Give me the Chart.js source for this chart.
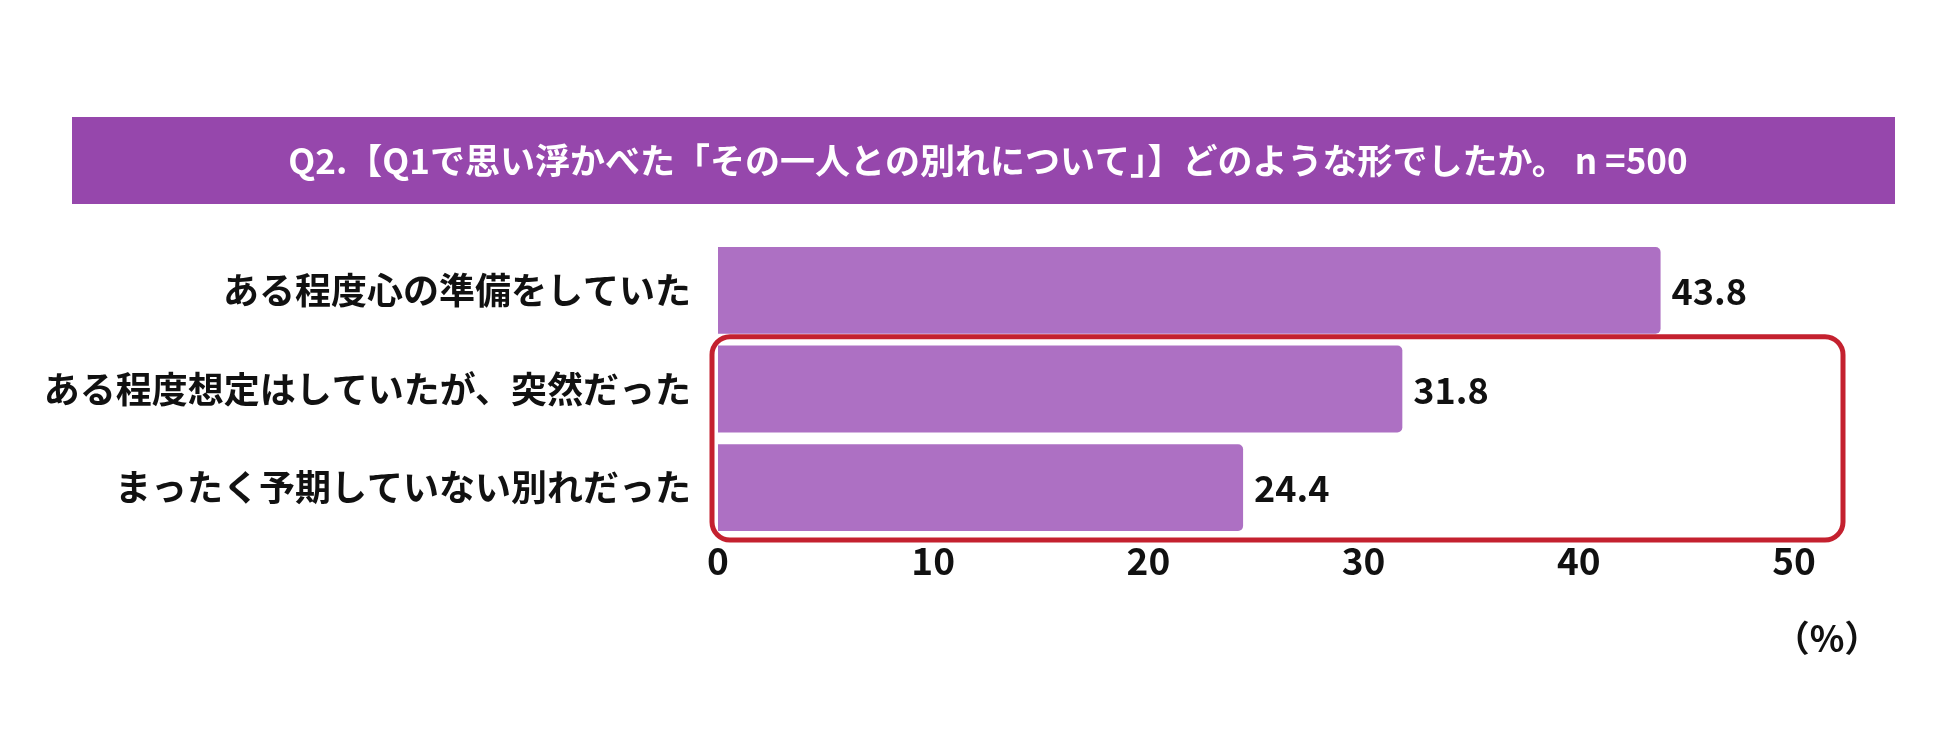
<!DOCTYPE html>
<html><head><meta charset="utf-8">
<script src="https://cdn.jsdelivr.net/npm/chart.js@4"></script>
<style>html,body{margin:0;padding:0;background:#fff;overflow:hidden}#wrap{width:1950px;height:731px}</style>
</head><body><div id="wrap"><canvas id="c"></canvas></div>
<script>
const titleText = "Q2.【Q1で思い浮かべた「その一人との別れについて」】どのような形でしたか。 n =500";
const categories = ["ある程度心の準備をしていた", "ある程度想定はしていたが、突然だった", "まったく予期していない別れだった"];
const values = [43.8, 31.8, 24.4];
const xTicks = [0, 10, 20, 30, 40, 50];
const unitLabel = "（%）";

const FONT = "'Noto Sans CJK JP', 'Noto Sans', sans-serif";

const decor = {
  id: 'decor',
  beforeDraw(chart) {
    const ctx = chart.ctx;
    ctx.save();
    ctx.fillStyle = '#9647AC';
    ctx.fillRect(72, 117, 1832 - 9, 87);
    ctx.fillStyle = '#ffffff';
    ctx.font = "bold 35px " + FONT;
    ctx.textAlign = 'center';
    ctx.textBaseline = 'middle';
    ctx.fillText(titleText, 988, 161);
    ctx.restore();
  },
  afterDatasetsDraw(chart) {
    const ctx = chart.ctx;
    const xs = chart.scales.x, ys = chart.scales.y;
    const meta = chart.getDatasetMeta(0);
    ctx.save();
    ctx.fillStyle = '#111111';
    ctx.font = "bold 36px " + FONT;
    ctx.textAlign = 'left';
    ctx.textBaseline = 'middle';
    meta.data.forEach((bar, i) => {
      ctx.fillText(values[i].toFixed(1), bar.x + 11, bar.y + 1);
    });
    // highlight box around last two categories
    const step = ys.getPixelForValue(1) - ys.getPixelForValue(0);
    const left = xs.getPixelForValue(0) - 6;
    const right = xs.right + 49;
    const top = ys.getPixelForValue(0) + step / 2 - 3;
    const bottom = ys.getPixelForValue(2) + step / 2 + 3;
    ctx.strokeStyle = '#C4212F';
    ctx.lineWidth = 5;
    ctx.beginPath();
    ctx.roundRect(left, top, right - left, bottom - top, 18);
    ctx.stroke();
    ctx.fillStyle = '#111111';
    ctx.textAlign = 'center';
    ctx.fillText(unitLabel, xs.right + 33, 638);
    ctx.restore();
  }
};

new Chart(document.getElementById('c'), {
  type: 'bar',
  data: {
    labels: categories,
    datasets: [{
      data: values,
      backgroundColor: '#AD70C3',
      borderWidth: 0,
      borderRadius: {topRight: 5, bottomRight: 5, topLeft: 0, bottomLeft: 0},
      borderSkipped: 'start',
      barPercentage: 0.88,
      categoryPercentage: 1.0
    }]
  },
  options: {
    indexAxis: 'y',
    responsive: true,
    maintainAspectRatio: false,
    animation: false,
    devicePixelRatio: 1,
    layout: { padding: { left: 0, right: 156, top: 241, bottom: 134 } },
    plugins: { legend: { display: false }, tooltip: { enabled: false }, title: { display: false } },
    scales: {
      x: {
        min: 0, max: 50,
        afterBuildTicks: (s) => { s.ticks = xTicks.map(v => ({ value: v })); },
        afterFit: (s) => { s.height = 60; },
        grid: { display: false, drawTicks: false },
        border: { display: false },
        ticks: { color: '#111111', padding: 2, font: { family: FONT, size: 37, weight: 'bold' } }
      },
      y: {
        afterFit: (s) => { s.width = 718; },
        grid: { display: false, drawTicks: false },
        border: { display: false },
        ticks: { color: '#111111', padding: 27, font: { family: FONT, size: 36, weight: 'bold' } }
      }
    }
  },
  plugins: [decor]
});
</script>
</body></html>
